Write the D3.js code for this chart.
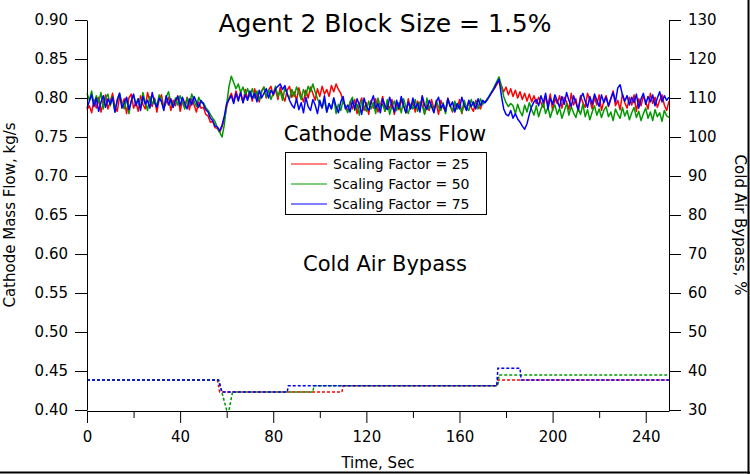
<!DOCTYPE html>
<html>
<head>
<meta charset="utf-8">
<script src="https://cdn.jsdelivr.net/npm/d3@7"></script>
<style>
  html, body { margin: 0; padding: 0; background: #fff; }
  svg { display: block; font-family: "DejaVu Sans", sans-serif; }
</style>
</head>
<body>
<svg id="chart" width="750" height="474"></svg>
<script>
// Cathode mass flow (kg/s), sampled once per second from t = 0 to 250 s
const massFlowSF25 = [
  .785,.790,.781,.798,.787,.801,.782,.794,.804,.786,
  .796,.806,.788,.783,.802,.791,.799,.780,.800,.805,
  .787,.795,.783,.803,.792,.786,.807,.796,.789,.800,
  .782,.798,.804,.787,.794,.801,.784,.797,.790,.803,
  .783,.796,.788,.801,.785,.799,.791,.782,.795,.787,
  .788,.779,.777,.769,.770,.762,.761,.756,.763,.773,.789,.800,
  .806,.795,.809,.798,.807,.794,.811,.799,.808,.796,
  .812,.801,.795,.809,.814,.800,.810,.815,.803,
  .811,.798,.814,.803,.796,.810,.815,.801,.808,.797,
  .813,.803,.795,.810,.800,.814,.806,.797,.812,.802,
  .815,.805,.811,.802,
  .816,.808,.818,.811,.806,.796,.790,
  .783,.795,.786,.798,.780,.792,.800,.784,.794,.779,
  .797,.787,.799,.782,.790,.802,.783,.793,.786,.798,
  .779,.792,.785,.797,.790,.781,.799,.786,.794,.782,
  .796,.788,.801,.780,.791,.784,.798,.786,.793,.779,
  .797,.788,.783,.800,.790,.782,.794,.786,.798,.780,
  .793,.785,.796,.788,.783,.797,.790,.786,.794,
  .795,.799,.803,.808,.812,.817,.822,
  .816,.808,.814,.804,.812,.802,.810,.800,.808,.798,
  .806,.796,.805,.795,.803,.793,.801,.794,
  .788,.802,.791,.805,.784,.799,.793,.803,.787,.801,
  .795,.785,.806,.791,.799,.783,.803,.794,.788,.806,
  .797,.786,.801,.791,.804,.784,.796,.803,.789,.799,
  .809,.790,.797,.785,.805,.794,.787,.801,.791,.804,
  .783,.799,.790,.803,.795,.786,.806,.793,.801,.788,
  .797,.804,.791,.784,.796
];

const massFlowSF50 = [
  .806,.797,.809,.791,.803,.794,.807,.786,.800,.805,
  .790,.802,.782,.798,.806,.794,.786,.800,.780,.796,
  .804,.792,.799,.787,.807,.795,.784,.802,.792,.799,
  .789,.804,.797,.786,.801,.808,.794,.788,.800,.791,
  .803,.795,.786,.800,.792,.805,.796,.789,.801,.794,
  .794,.788,.784,.779,.774,.770,.762,.756,.750,
  .766,.792,.815,.828,
  .820,.812,.818,.807,.814,.804,.812,.802,
  .812,.800,.809,.797,.808,.814,.801,.811,.798,.806,
  .815,.802,.809,.797,.813,.805,.799,.811,.802,.814,
  .807,.798,.811,.803,.815,.808,
  .818,.808,.799,.792,.788,
  .797,.782,.793,.786,.800,.780,.792,.784,.797,.788,
  .781,.795,.801,.784,.792,.778,.797,.789,.783,.796,
  .786,.794,.780,.800,.788,.792,.783,.798,.779,.790,
  .796,.784,.794,.781,.799,.788,.780,.792,.786,.798,
  .783,.795,.790,.779,.800,.786,.792,.782,.797,.788,
  .784,.794,.780,.799,.790,.783,.796,.786,.792,.781,
  .797,.788,.784,.798,.790,.795,.786,.799,.792,
  .795,.799,.804,.809,.815,.821,.827,
  .815,.802,.794,.789,.793,
  .790,.780,.792,.783,.777,.791,.782,.794,.785,.778,
  .790,.776,.786,.794,.780,.788,.775,.785,.791,.779,
  .787,.774,.783,.793,.778,.789,.781,.775,.787,.779,
  .792,.776,.785,.772,.782,.790,.778,.786,.775,.784,
  .789,.776,.782,.771,.786,.779,.774,.788,.777,.784,
  .772,.781,.788,.775,.783,.771,.780,.787,.774,.782,
  .771,.785,.776,.781,.770,.784,.777,.775
];

const massFlowSF75 = [
  .787,.796,.804,.789,.800,.783,.795,.803,.788,.799,
  .792,.801,.782,.797,.806,.787,.794,.801,.785,.796,
  .805,.790,.799,.784,.802,.792,.797,.787,.807,.794,
  .788,.800,.795,.784,.803,.791,.799,.788,.797,.802,
  .790,.801,.793,.786,.799,.791,.802,.795,.788,.797,
  .792,.785,.782,.774,.771,.764,.763,.758,
  .765,.777,.793,.798,
  .803,.793,.806,.796,.807,.794,.804,.797,.809,.799,
  .806,.795,.810,.800,.806,.812,.800,.810,.805,
  .812,.815,.818,.811,.816,
  .805,.797,.791,.787,
  .799,.785,.794,.781,.801,.789,.784,.798,.791,.780,
  .797,.787,.803,.782,.793,.786,.800,.789,.781,.795,
  .802,.786,.791,.782,.797,.786,.799,.791,.779,.800,
  .789,.784,.794,.803,.787,.793,.781,.799,.790,.785,
  .801,.791,.782,.797,.787,.802,.790,.781,.795,.786,
  .800,.787,.793,.782,.803,.791,.785,.797,.789,.781,
  .795,.801,.787,.792,.783,.799,.789,.795,.782,.793,
  .786,.801,.791,.784,.797,.789,.795,.786,.799,.790,.797,
  .794,.798,.803,.808,.813,.819,.824,
  .803,.786,.779,.777,.784,.774,.780,.773,.769,
  .764,.760,.767,.779,.789,.795,.798,
  .790,.803,.794,.806,.786,.800,.792,.804,.796,.788,
  .802,.792,.807,.797,.789,.803,.794,.785,.800,.806,
  .796,.788,.802,.792,.805,.797,.789,.804,.794,.801,
  .790,.799,.807,.795,.813,.817,.804,.796,.803,.791,
  .801,.794,.805,.787,.799,.806,.792,.802,.795,.804,
  .790,.800,.808,.795,.803,.797,.801
];

// Cold air bypass (%), breakpoints of each piecewise-constant trace
const bypassTimeSF25  = [0, 56, 57, 109.5, 110, 176, 176.5, 250];
const bypassValueSF25 = [37.7, 37.7, 34.6, 34.6, 36.2, 36.2, 37.7, 37.7];
const bypassTimeSF50  = [0, 56.5, 60, 61, 62.5, 97, 97.5, 176.5, 177, 250];
const bypassValueSF50 = [37.7, 37.7, 30, 30, 34.6, 34.6, 36.2, 36.2, 39.0, 39.0];
const bypassTimeSF75  = [0, 56.5, 58, 86, 86.5, 176, 176.5, 186, 186.5, 250];
const bypassValueSF75 = [37.7, 37.7, 34.6, 34.6, 36.2, 36.2, 40.7, 40.7, 37.7, 37.7];

const seriesNames = ["Scaling Factor = 25", "Scaling Factor = 50", "Scaling Factor = 75"];
const seriesColors = ["#ff0000", "#009a00", "#0000ff"];

const xTicksMajor = [0, 40, 80, 120, 160, 200, 240];
const xTicksMinor = [20, 60, 100, 140, 180, 220];
const yLeftTicks = [0.40, 0.45, 0.50, 0.55, 0.60, 0.65, 0.70, 0.75, 0.80, 0.85, 0.90];
const yRightTicks = [30, 40, 50, 60, 70, 80, 90, 100, 110, 120, 130];

const svg = d3.select("#chart");
const plot = { left: 87, right: 669, top: 20, bottom: 410 };

const x = d3.scaleLinear().domain([0, 250]).range([plot.left, plot.right]);
const yL = d3.scaleLinear().domain([0.40, 0.90]).range([plot.bottom, plot.top]);
const yR = d3.scaleLinear().domain([30, 130]).range([plot.bottom, plot.top]);

// outer frame on the right and bottom edges
svg.append("line").attr("x1", 748.5).attr("x2", 748.5).attr("y1", 0).attr("y2", 474)
  .attr("stroke", "#000").attr("stroke-width", 2);
svg.append("line").attr("x1", 0).attr("x2", 750).attr("y1", 472.5).attr("y2", 472.5)
  .attr("stroke", "#000").attr("stroke-width", 2);

// bypass traces (dotted)
const bypassSets = [
  [bypassTimeSF25, bypassValueSF25],
  [bypassTimeSF50, bypassValueSF50],
  [bypassTimeSF75, bypassValueSF75]
];
const bypassLine = d3.line().x(d => x(d[0])).y(d => yR(d[1]));
bypassSets.forEach(([ts, vs], i) => {
  svg.append("path")
    .datum(ts.map((t, k) => [t, vs[k]]))
    .attr("d", bypassLine)
    .attr("fill", "none")
    .attr("stroke", seriesColors[i])
    .attr("stroke-width", 1.5)
    .attr("stroke-dasharray", "3,2");
});

// mass flow traces
const flowSets = [massFlowSF25, massFlowSF50, massFlowSF75];
const flowLine = d3.line().x((d, k) => x(k)).y(d => yL(d));
flowSets.forEach((vals, i) => {
  svg.append("path")
    .datum(vals)
    .attr("d", flowLine)
    .attr("fill", "none")
    .attr("stroke", seriesColors[i])
    .attr("stroke-width", 1.5)
    .attr("stroke-linejoin", "round");
});

// axes
const axisStyle = g => {
  g.selectAll("path.domain").attr("stroke", "#000").attr("stroke-width", 1);
  g.selectAll(".tick line").attr("stroke", "#000").attr("stroke-width", 1);
  g.selectAll(".tick text").attr("fill", "#000")
    .style("font-family", "DejaVu Sans, sans-serif").style("font-size", "15px");
};

svg.append("g")
  .attr("transform", `translate(${plot.left},0)`)
  .call(d3.axisLeft(yL).tickValues(yLeftTicks).tickFormat(d3.format(".2f")).tickSize(12).tickSizeOuter(0).tickPadding(7))
  .call(axisStyle);

svg.append("g")
  .attr("transform", `translate(${plot.right},0)`)
  .call(d3.axisRight(yR).tickValues(yRightTicks).tickSize(12).tickSizeOuter(0).tickPadding(7))
  .call(axisStyle);

svg.append("g")
  .attr("transform", `translate(0,${plot.bottom + 1})`)
  .call(d3.axisBottom(x).tickValues(xTicksMajor).tickFormat(d3.format("d")).tickSize(12).tickSizeOuter(0).tickPadding(8))
  .call(axisStyle);

svg.append("g")
  .attr("transform", `translate(0,${plot.bottom + 1})`)
  .call(d3.axisBottom(x).tickValues(xTicksMinor).tickFormat("").tickSize(7).tickSizeOuter(0))
  .call(g => g.select("path.domain").remove())
  .call(axisStyle);

// axis titles
svg.append("text")
  .attr("x", (plot.left + plot.right) / 2).attr("y", 468)
  .attr("text-anchor", "middle").style("font-size", "15px").text("Time, Sec");

svg.append("text")
  .attr("transform", `translate(15,${(plot.top + plot.bottom) / 2}) rotate(-90)`)
  .attr("text-anchor", "middle").style("font-size", "15px").text("Cathode Mass Flow, kg/s");

svg.append("text")
  .attr("transform", `translate(735,${(plot.top + plot.bottom) / 2 + 10}) rotate(90)`)
  .attr("text-anchor", "middle").style("font-size", "15px").text("Cold Air Bypass, %");

// titles inside the plot
svg.append("text")
  .attr("x", 385).attr("y", 32).attr("text-anchor", "middle")
  .style("font-size", "25px").text("Agent 2 Block Size = 1.5%");
svg.append("text")
  .attr("x", 385).attr("y", 141).attr("text-anchor", "middle")
  .style("font-size", "21px").text("Cathode Mass Flow");
svg.append("text")
  .attr("x", 385).attr("y", 271).attr("text-anchor", "middle")
  .style("font-size", "21px").text("Cold Air Bypass");

// legend
const legend = svg.append("g").attr("transform", "translate(285,152)");
legend.append("rect").attr("x", 0.5).attr("y", 0.5).attr("width", 201).attr("height", 62)
  .attr("fill", "#fff").attr("stroke", "#000").attr("stroke-width", 1);
seriesNames.forEach((name, i) => {
  const cy = 12 + i * 20;
  legend.append("line").attr("x1", 6).attr("x2", 42).attr("y1", cy).attr("y2", cy)
    .attr("stroke", seriesColors[i]).attr("stroke-width", 1);
  legend.append("text").attr("x", 48).attr("y", cy).attr("dy", "0.35em")
    .style("font-size", "14px").text(name);
});
</script>
</body>
</html>
